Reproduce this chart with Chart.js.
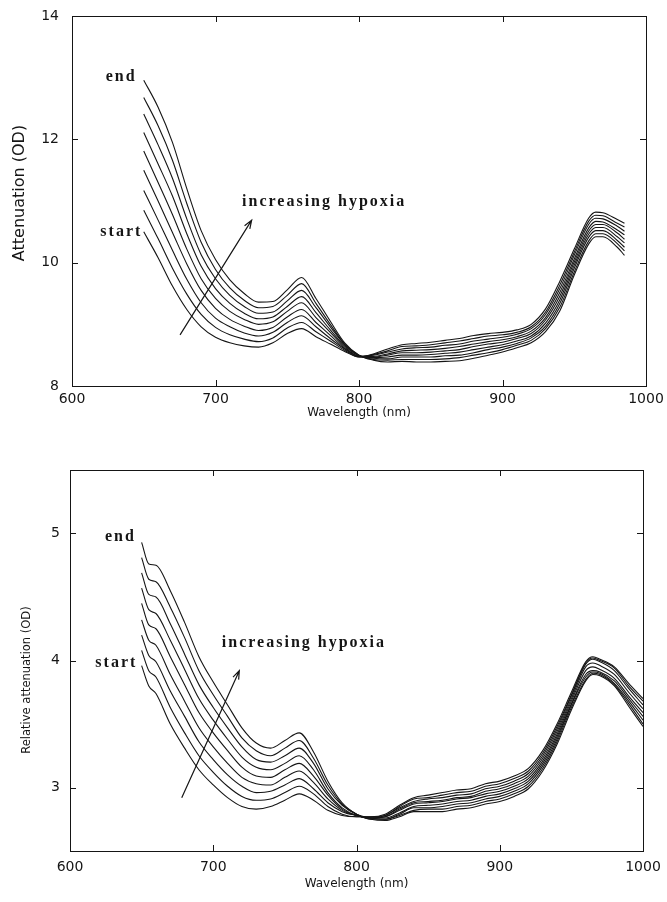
<!DOCTYPE html>
<html>
<head>
<meta charset="utf-8">
<script src="https://cdn.jsdelivr.net/npm/chart.js@4.4.1/dist/chart.umd.min.js"></script>
<style>
  html, body { margin: 0; padding: 0; background: #fff; }
  #arriba { position: absolute; left: 0; top: 0; }
  #abajo { position: absolute; left: 0; top: 440px; }
</style>
</head>
<body>
<canvas id="arriba" width="667" height="430"></canvas>
<canvas id="abajo" width="667" height="462"></canvas>
<script>
// longitudes de onda (nm)
const ondaArriba = [650, 660, 670, 680, 690, 700, 710, 720, 730, 740, 750, 760, 770, 780, 790, 800, 810, 820, 830, 840, 850, 860, 870, 880, 890, 900, 910, 920, 930, 940, 950, 960, 965, 970, 980, 985];
const ondaAbajo = [650, 655, 660, 670, 680, 690, 700, 710, 720, 730, 740, 750, 760, 770, 780, 790, 800, 810, 820, 830, 840, 850, 860, 870, 880, 890, 900, 910, 920, 930, 940, 950, 960, 965, 970, 980, 990, 1000];

// Attenuation (OD): att1 = start ... att9 = end
const att1 = [10.50, 10.08, 9.62, 9.24, 8.96, 8.79, 8.70, 8.65, 8.63, 8.70, 8.85, 8.93, 8.80, 8.68, 8.56, 8.47, 8.52, 8.60, 8.67, 8.69, 8.71, 8.74, 8.77, 8.82, 8.85, 8.87, 8.91, 9.00, 9.25, 9.70, 10.22, 10.72, 10.82, 10.81, 10.70, 10.64];
const att2 = [10.85, 10.39, 9.91, 9.49, 9.16, 8.95, 8.83, 8.76, 8.72, 8.78, 8.94, 9.03, 8.88, 8.73, 8.58, 8.47, 8.51, 8.57, 8.64, 8.65, 8.67, 8.70, 8.73, 8.77, 8.81, 8.83, 8.87, 8.96, 9.20, 9.64, 10.17, 10.67, 10.77, 10.76, 10.64, 10.58];
const att3 = [11.17, 10.69, 10.20, 9.73, 9.35, 9.10, 8.96, 8.86, 8.81, 8.87, 9.03, 9.14, 8.96, 8.77, 8.60, 8.48, 8.50, 8.55, 8.60, 8.62, 8.63, 8.66, 8.68, 8.73, 8.76, 8.79, 8.84, 8.93, 9.16, 9.58, 10.12, 10.62, 10.72, 10.71, 10.59, 10.51];
const att4 = [11.50, 11.00, 10.49, 9.98, 9.55, 9.26, 9.08, 8.97, 8.90, 8.95, 9.12, 9.24, 9.03, 8.82, 8.61, 8.48, 8.48, 8.52, 8.57, 8.58, 8.59, 8.61, 8.64, 8.68, 8.72, 8.75, 8.80, 8.89, 9.11, 9.52, 10.06, 10.56, 10.67, 10.66, 10.53, 10.45];
const att5 = [11.81, 11.30, 10.78, 10.22, 9.74, 9.42, 9.21, 9.08, 9.00, 9.04, 9.21, 9.35, 9.11, 8.87, 8.63, 8.48, 8.47, 8.50, 8.54, 8.54, 8.55, 8.57, 8.59, 8.64, 8.68, 8.71, 8.77, 8.85, 9.07, 9.46, 10.01, 10.51, 10.62, 10.62, 10.48, 10.38];
const att6 = [12.11, 11.60, 11.08, 10.47, 9.94, 9.58, 9.34, 9.18, 9.09, 9.12, 9.29, 9.45, 9.19, 8.91, 8.65, 8.49, 8.46, 8.47, 8.50, 8.50, 8.51, 8.53, 8.55, 8.59, 8.63, 8.67, 8.73, 8.81, 9.02, 9.40, 9.96, 10.46, 10.57, 10.57, 10.42, 10.32];
const att7 = [12.41, 11.91, 11.37, 10.71, 10.13, 9.74, 9.47, 9.29, 9.18, 9.20, 9.38, 9.55, 9.27, 8.96, 8.67, 8.49, 8.45, 8.44, 8.47, 8.47, 8.47, 8.49, 8.50, 8.54, 8.59, 8.63, 8.69, 8.78, 8.97, 9.34, 9.91, 10.41, 10.52, 10.52, 10.36, 10.25];
const att8 = [12.68, 12.22, 11.66, 10.96, 10.33, 9.89, 9.59, 9.39, 9.27, 9.29, 9.47, 9.66, 9.34, 9.00, 8.68, 8.50, 8.43, 8.42, 8.43, 8.43, 8.43, 8.44, 8.46, 8.50, 8.54, 8.59, 8.66, 8.74, 8.93, 9.28, 9.85, 10.35, 10.47, 10.47, 10.31, 10.19];
const att9 = [12.96, 12.52, 11.95, 11.20, 10.52, 10.05, 9.72, 9.50, 9.36, 9.37, 9.56, 9.76, 9.42, 9.05, 8.70, 8.50, 8.42, 8.39, 8.40, 8.39, 8.39, 8.40, 8.41, 8.45, 8.50, 8.55, 8.62, 8.70, 8.88, 9.22, 9.80, 10.30, 10.42, 10.42, 10.25, 10.12];

// Relative attenuation (OD): rel1 = start ... rel9 = end
const rel1 = [3.96, 3.80, 3.74, 3.50, 3.31, 3.14, 3.02, 2.92, 2.85, 2.83, 2.85, 2.90, 2.95, 2.90, 2.82, 2.78, 2.77, 2.77, 2.79, 2.86, 2.92, 2.94, 2.96, 2.98, 2.99, 3.03, 3.05, 3.09, 3.15, 3.29, 3.50, 3.75, 3.99, 4.03, 4.01, 3.95, 3.82, 3.70];
const rel2 = [4.08, 3.92, 3.87, 3.63, 3.43, 3.25, 3.12, 3.01, 2.93, 2.90, 2.91, 2.96, 3.01, 2.95, 2.85, 2.79, 2.77, 2.77, 2.78, 2.85, 2.91, 2.92, 2.94, 2.96, 2.97, 3.01, 3.03, 3.07, 3.13, 3.27, 3.48, 3.73, 3.98, 4.02, 4.00, 3.94, 3.80, 3.68];
const rel3 = [4.20, 4.04, 3.99, 3.76, 3.56, 3.36, 3.22, 3.10, 3.01, 2.96, 2.97, 3.02, 3.07, 2.99, 2.88, 2.81, 2.78, 2.76, 2.78, 2.84, 2.89, 2.91, 2.92, 2.94, 2.95, 2.99, 3.01, 3.05, 3.11, 3.25, 3.46, 3.72, 3.97, 4.01, 3.99, 3.92, 3.78, 3.65];
const rel4 = [4.32, 4.16, 4.12, 3.89, 3.68, 3.47, 3.32, 3.19, 3.08, 3.03, 3.02, 3.08, 3.13, 3.04, 2.91, 2.82, 2.78, 2.76, 2.77, 2.83, 2.88, 2.89, 2.90, 2.92, 2.93, 2.97, 2.99, 3.03, 3.09, 3.23, 3.44, 3.70, 3.95, 3.98, 3.96, 3.89, 3.75, 3.62];
const rel5 = [4.45, 4.28, 4.25, 4.03, 3.81, 3.59, 3.43, 3.29, 3.16, 3.09, 3.08, 3.14, 3.19, 3.09, 2.94, 2.83, 2.78, 2.76, 2.77, 2.82, 2.87, 2.88, 2.89, 2.91, 2.92, 2.95, 2.97, 3.01, 3.07, 3.21, 3.42, 3.68, 3.92, 3.95, 3.93, 3.86, 3.72, 3.59];
const rel6 = [4.57, 4.40, 4.37, 4.16, 3.93, 3.70, 3.53, 3.38, 3.24, 3.16, 3.14, 3.19, 3.25, 3.14, 2.96, 2.84, 2.78, 2.76, 2.76, 2.80, 2.85, 2.86, 2.87, 2.89, 2.90, 2.93, 2.95, 2.99, 3.05, 3.19, 3.40, 3.66, 3.89, 3.92, 3.91, 3.84, 3.70, 3.56];
const rel7 = [4.69, 4.52, 4.50, 4.29, 4.05, 3.81, 3.63, 3.47, 3.32, 3.22, 3.20, 3.25, 3.31, 3.19, 2.99, 2.86, 2.79, 2.76, 2.75, 2.79, 2.84, 2.84, 2.85, 2.87, 2.88, 2.91, 2.93, 2.97, 3.03, 3.17, 3.38, 3.65, 3.87, 3.91, 3.90, 3.82, 3.68, 3.53];
const rel8 = [4.81, 4.64, 4.62, 4.42, 4.18, 3.92, 3.73, 3.56, 3.39, 3.29, 3.25, 3.31, 3.37, 3.23, 3.02, 2.87, 2.79, 2.75, 2.75, 2.78, 2.82, 2.83, 2.83, 2.85, 2.86, 2.89, 2.91, 2.95, 3.01, 3.15, 3.36, 3.63, 3.85, 3.90, 3.89, 3.81, 3.66, 3.50];
const rel9 = [4.93, 4.76, 4.75, 4.55, 4.30, 4.03, 3.83, 3.65, 3.47, 3.35, 3.31, 3.37, 3.43, 3.28, 3.05, 2.88, 2.79, 2.75, 2.74, 2.77, 2.81, 2.81, 2.81, 2.83, 2.84, 2.87, 2.89, 2.93, 2.99, 3.13, 3.34, 3.61, 3.84, 3.89, 3.88, 3.80, 3.64, 3.48];

// ticks
const ticksX = [600, 700, 800, 900, 1000];
const ticksYArriba = [8, 10, 12, 14];
const ticksYAbajo = [3, 4, 5];

const seriesArriba = [att1, att2, att3, att4, att5, att6, att7, att8, att9];
const seriesAbajo = [rel1, rel2, rel3, rel4, rel5, rel6, rel7, rel8, rel9];

const TINTA = '#151515';
const fuenteEje = 'DejaVu Sans';

// marco con ticks hacia dentro
const marcoPlugin = {
    id: 'marco',
    afterDraw(chart) {
        const { ctx, chartArea: a, scales: { x, y } } = chart;
        const len = 6;
        ctx.save();
        ctx.strokeStyle = TINTA;
        ctx.lineWidth = 1;
        ctx.strokeRect(Math.round(a.left) + 0.5, Math.round(a.top) + 0.5,
            Math.round(a.right - a.left), Math.round(a.bottom - a.top));
        ctx.beginPath();
        x.ticks.forEach(t => {
            if (t.value <= x.min || t.value >= x.max) return;
            const px = Math.round(x.getPixelForValue(t.value)) + 0.5;
            ctx.moveTo(px, a.bottom); ctx.lineTo(px, a.bottom - len);
            ctx.moveTo(px, a.top); ctx.lineTo(px, a.top + len);
        });
        y.ticks.forEach(t => {
            if (t.value <= y.min || t.value >= y.max) return;
            const py = Math.round(y.getPixelForValue(t.value)) + 0.5;
            ctx.moveTo(a.left, py); ctx.lineTo(a.left + len, py);
            ctx.moveTo(a.right, py); ctx.lineTo(a.right - len, py);
        });
        ctx.stroke();
        ctx.restore();
    }
};

// titulo del eje Y, textos "end", "start", "increasing hypoxia" y la flecha
function crearNotas(conf) {
    return {
        id: 'notas',
        afterDatasetsDraw(chart) {
            const { ctx, scales: { x, y } } = chart;
            ctx.save();
            ctx.fillStyle = TINTA;
            ctx.strokeStyle = TINTA;

            // titulo vertical (posicion en px del canvas)
            const t = conf.tituloY;
            ctx.save();
            ctx.translate(t.px, t.py);
            ctx.rotate(-Math.PI / 2);
            ctx.font = t.size + 'px "' + fuenteEje + '"';
            ctx.textAlign = 'center';
            ctx.textBaseline = 'middle';
            ctx.fillText(t.texto, 0, 0);
            ctx.restore();

            ctx.font = 'bold 16px "Liberation Serif"';
            ctx.letterSpacing = '2px';
            ctx.textBaseline = 'middle';
            conf.textos.forEach(n => {
                ctx.textAlign = n.align;
                ctx.fillText(n.texto, x.getPixelForValue(n.x), y.getPixelForValue(n.y));
            });

            const x0 = x.getPixelForValue(conf.flecha[0]);
            const y0 = y.getPixelForValue(conf.flecha[1]);
            const x1 = x.getPixelForValue(conf.flecha[2]);
            const y1 = y.getPixelForValue(conf.flecha[3]);
            const ang = Math.atan2(y1 - y0, x1 - x0);
            ctx.lineWidth = 1.2;
            ctx.beginPath();
            ctx.moveTo(x0, y0);
            ctx.lineTo(x1, y1);
            ctx.moveTo(x1 - 9 * Math.cos(ang - 0.35), y1 - 9 * Math.sin(ang - 0.35));
            ctx.lineTo(x1, y1);
            ctx.lineTo(x1 - 9 * Math.cos(ang + 0.35), y1 - 9 * Math.sin(ang + 0.35));
            ctx.stroke();
            ctx.restore();
        }
    };
}

function crearGrafica(id, ondas, series, opts) {
    const datasets = series.map(serie => ({
        data: serie.map((v, i) => ({ x: ondas[i], y: v })),
        borderColor: TINTA,
        borderWidth: 1.1,
        pointRadius: 0,
        fill: false,
        cubicInterpolationMode: 'monotone'
    }));

    return new Chart(document.getElementById(id), {
        type: 'line',
        data: { datasets },
        options: {
            responsive: false,
            animation: false,
            devicePixelRatio: 1,
            layout: { padding: opts.padding },
            plugins: { legend: { display: false }, tooltip: { enabled: false } },
            scales: {
                x: {
                    type: 'linear',
                    min: 600,
                    max: 1000,
                    afterFit: s => {
                        s.height = opts.altoX;
                        s.paddingLeft = 0;
                        s.paddingRight = 0;
                    },
                    afterBuildTicks: s => { s.ticks = ticksX.map(v => ({ value: v })); },
                    grid: { display: false, drawTicks: false },
                    border: { display: false },
                    ticks: {
                        padding: opts.padX, color: TINTA,
                        font: { family: fuenteEje, size: 14 },
                        callback: v => String(v)
                    },
                    title: {
                        display: true,
                        text: 'Wavelength (nm)',
                        color: TINTA,
                        font: { family: fuenteEje, size: 12 },
                        padding: { top: 0, bottom: opts.padTituloX }
                    }
                },
                y: {
                    min: opts.yMin,
                    max: opts.yMax,
                    afterFit: s => {
                        s.width = opts.anchoY;
                        s.paddingTop = 0;
                        s.paddingBottom = 0;
                    },
                    afterBuildTicks: s => { s.ticks = opts.ticksY.map(v => ({ value: v })); },
                    grid: { display: false, drawTicks: false },
                    border: { display: false },
                    ticks: {
                        padding: opts.padY, color: TINTA,
                        font: { family: fuenteEje, size: 14 },
                        callback: v => String(v)
                    },
                    title: { display: false }
                }
            }
        },
        plugins: [marcoPlugin, crearNotas(opts.notas)]
    });
}

document.addEventListener('DOMContentLoaded', () => {
    crearGrafica('arriba', ondaArriba, seriesArriba, {
        padding: { top: 16, right: 21, left: 0, bottom: 0 },
        altoX: 44, anchoY: 72, padX: 5, padY: 13, padTituloX: 10,
        yMin: 8, yMax: 14, ticksY: ticksYArriba,
        notas: {
            tituloY: { texto: 'Attenuation (OD)', px: 20, py: 193, size: 16 },
            textos: [
                { texto: 'end', x: 645, y: 13.01, align: 'right' },
                { texto: 'start', x: 649, y: 10.50, align: 'right' },
                { texto: 'increasing hypoxia', x: 718.5, y: 10.98, align: 'left' }
            ],
            flecha: [675.3, 8.83, 725.2, 10.69]
        }
    });

    crearGrafica('abajo', ondaAbajo, seriesAbajo, {
        padding: { top: 30, right: 24, left: 0, bottom: 0 },
        altoX: 51, anchoY: 70, padX: 8, padY: 10, padTituloX: 11,
        yMin: 2.5, yMax: 5.5, ticksY: ticksYAbajo,
        notas: {
            tituloY: { texto: 'Relative attenuation (OD)', px: 27, py: 240, size: 11.5 },
            textos: [
                { texto: 'end', x: 646, y: 4.97, align: 'right' },
                { texto: 'start', x: 647, y: 3.98, align: 'right' },
                { texto: 'increasing hypoxia', x: 706, y: 4.14, align: 'left' }
            ],
            flecha: [678, 2.92, 718.2, 3.92]
        }
    });
});
</script>
</body>
</html>
